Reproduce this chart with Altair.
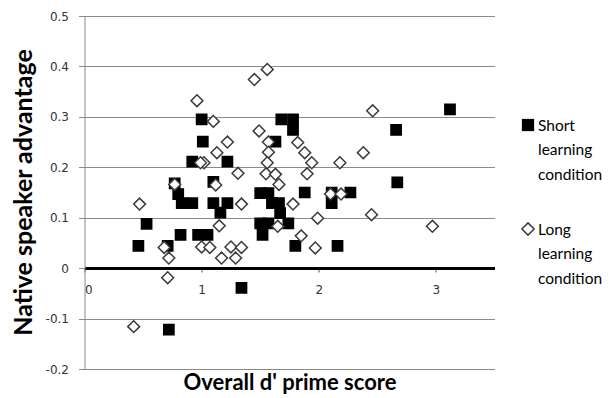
import altair as alt
import pandas as pd

# Short learning condition (filled squares)
short_x = [0.46, 0.53, 0.72, 0.71, 0.77, 0.80, 0.83, 0.92, 0.82, 0.97, 1.05, 0.92, 1.00, 1.01,
           1.10, 1.10, 1.22, 1.16, 1.22, 1.34, 1.50, 1.57, 1.60, 1.66, 1.67, 1.50, 1.57, 1.74,
           1.52, 1.63, 1.68, 1.78, 1.78, 1.80, 1.88, 2.11, 2.11, 2.27, 2.16, 2.66, 2.67, 3.12]
short_y = [0.044, 0.088, -0.122, 0.044, 0.168, 0.147, 0.129, 0.129, 0.066, 0.066, 0.066, 0.211, 0.295, 0.251,
           0.171, 0.129, 0.129, 0.110, 0.211, -0.039, 0.149, 0.149, 0.129, 0.129, 0.109, 0.089, 0.089, 0.089,
           0.066, 0.251, 0.295, 0.295, 0.274, 0.044, 0.150, 0.150, 0.129, 0.150, 0.044, 0.274, 0.170, 0.315]

# Long learning condition (open diamonds)
long_x = [0.42, 0.47, 0.68, 0.72, 0.71, 0.77, 0.96, 1.10, 1.02, 0.99, 1.13, 1.22, 1.31, 1.12,
          1.15, 1.00, 1.07, 1.17, 1.25, 1.29, 1.34, 1.34, 1.45, 1.56, 1.49, 1.57, 1.57, 1.56,
          1.55, 1.63, 1.66, 1.65, 1.78, 1.82, 1.88, 1.94, 1.90, 2.18, 1.99, 1.85, 1.97, 2.10,
          2.19, 2.38, 2.46, 2.45, 2.97]
long_y = [-0.116, 0.127, 0.041, 0.020, -0.019, 0.166, 0.332, 0.291, 0.209, 0.209, 0.229, 0.250, 0.188, 0.165,
          0.084, 0.042, 0.041, 0.020, 0.042, 0.020, 0.041, 0.127, 0.374, 0.394, 0.272, 0.250, 0.230, 0.209,
          0.187, 0.186, 0.166, 0.083, 0.127, 0.249, 0.229, 0.209, 0.187, 0.209, 0.099, 0.064, 0.040, 0.147,
          0.147, 0.229, 0.312, 0.106, 0.083]

conditions = ["Short learning condition", "Long learning condition"]
x_ticks = [0, 1, 2, 3]
y_ticks = [-0.2, -0.1, 0, 0.1, 0.2, 0.3, 0.4, 0.5]

df = pd.DataFrame({
    "x": short_x + long_x,
    "y": short_y + long_y,
    "cond": [conditions[0]] * len(short_x) + [conditions[1]] * len(long_x),
})

scatter = alt.Chart(df).mark_point(filled=True, opacity=1).encode(
    x=alt.X("x:Q",
            scale=alt.Scale(domain=[0, 3.5], nice=False, zero=False),
            axis=alt.Axis(values=x_ticks, grid=False, offset=-101,
                          domainColor="black", domainWidth=3,
                          tickColor="#555555", tickSize=4, tickWidth=1,
                          labelFont="DejaVu Sans", labelFontSize=12, labelColor="#333333",
                          labelPadding=12,
                          title="Overall d' prime score", titleFont="Lato",
                          titleFontSize=22, titleFontWeight="bold", titleColor="black",
                          titleY=114, titleBaseline="middle")),
    y=alt.Y("y:Q",
            scale=alt.Scale(domain=[-0.2, 0.5], nice=False, zero=False),
            axis=alt.Axis(values=y_ticks, grid=True, gridColor="#8a8a8a", gridWidth=1,
                          domainColor="#8a8a8a", tickColor="#8a8a8a", tickSize=6,
                          labelFont="DejaVu Sans", labelFontSize=12, labelColor="#333333",
                          labelPadding=10,
                          labelExpr="datum.value == 0 ? '0' : toString(round(datum.value*10)/10)",
                          title="Native speaker advantage", titleFont="Lato",
                          titleFontSize=25, titleFontWeight="bold", titleColor="black",
                          titleAngle=-90, titleX=-61, titleY=176, titleAlign="center",
                          titleBaseline="middle")),
    shape=alt.Shape("cond:N", scale=alt.Scale(domain=conditions, range=["square", "diamond"]),
                    legend=None),
    fill=alt.Fill("cond:N", scale=alt.Scale(domain=conditions, range=["black", "white"]),
                  legend=None),
    stroke=alt.Stroke("cond:N", scale=alt.Scale(domain=conditions, range=["black", "#3a3a3a"]),
                      legend=None),
    size=alt.Size("cond:N", scale=alt.Scale(domain=conditions, range=[105, 140]), legend=None),
    strokeWidth=alt.value(1.5),
)

# Legend, drawn as its own small layers (one row each)
short_key = pd.DataFrame({"cond": [conditions[0]]})
long_key = pd.DataFrame({"cond": [conditions[1]]})

short_sym = alt.Chart(short_key).mark_point(shape="square", filled=True, color="black",
                                            size=150, opacity=1).encode(
    x=alt.value(443.5), y=alt.value(109))
long_sym = alt.Chart(long_key).mark_point(shape="diamond", filled=True, fill="white",
                                          stroke="#3a3a3a", strokeWidth=1.5,
                                          size=150, opacity=1).encode(
    x=alt.value(443.5), y=alt.value(213))
short_txt = alt.Chart(short_key).mark_text(align="left", baseline="alphabetic", font="Lato",
                                           fontSize=15.5, color="black", lineHeight=24.5).encode(
    x=alt.value(453.5), y=alt.value(114.5), text=alt.value(conditions[0].split(" ")))
long_txt = alt.Chart(long_key).mark_text(align="left", baseline="alphabetic", font="Lato",
                                         fontSize=15.5, color="black", lineHeight=24.5).encode(
    x=alt.value(453.5), y=alt.value(218.5), text=alt.value(conditions[1].split(" ")))

chart = alt.layer(scatter, short_sym, long_sym, short_txt, long_txt).properties(
    width=410, height=353,
    autosize=alt.AutoSizeParams(type="none"),
    padding={"left": 76.5, "top": 8, "right": 112, "bottom": 29},
).configure_view(stroke=None)

chart.save("out.html", embed_options={"renderer": "svg", "actions": False})
